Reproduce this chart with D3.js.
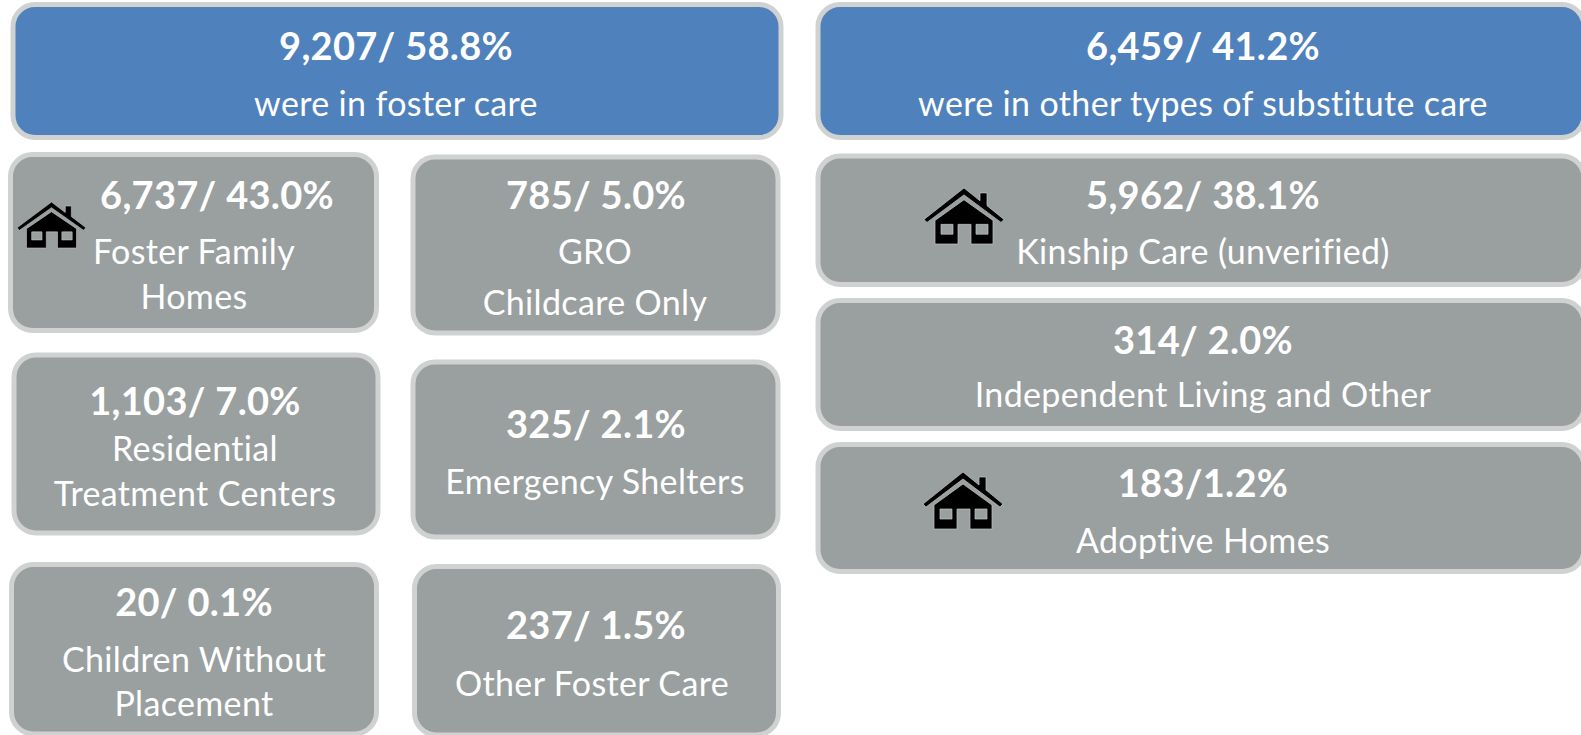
<!DOCTYPE html>
<html>
<head>
<meta charset="utf-8">
<script src="https://cdn.jsdelivr.net/npm/d3@7"></script>
<style>
  html, body { margin: 0; padding: 0; background: #fff; overflow: hidden; }
  text { font-family: Lato, "Open Sans", sans-serif; fill: #fff; text-anchor: middle; font-variant-ligatures: none; }
</style>
</head>
<body>
<svg id="drawing_region" width="1581" height="735"></svg>
<script>
// values
const counts = ["9,207/ 58.8%", "6,459/ 41.2%", "6,737/ 43.0%", "785/ 5.0%", "1,103/ 7.0%", "325/ 2.1%",
                "20/ 0.1%", "237/ 1.5%", "5,962/ 38.1%", "314/ 2.0%", "183/1.2%"];
const labels = [["were in foster care"], ["were in other types of substitute care"], ["Foster Family", "Homes"],
                ["GRO", "Childcare Only"], ["Residential", "Treatment Centers"], ["Emergency Shelters"],
                ["Children Without", "Placement"], ["Other Foster Care"], ["Kinship Care (unverified)"],
                ["Independent Living and Other"], ["Adoptive Homes"]];
const headerBoxes = [0, 1];

// box edges (x0, x1, y0, y1) and text baselines, full size pixels
const boxes = [
    [13, 781, 4.5, 137.5],
    [818, 1584, 4.5, 137.5],
    [10.5, 376.5, 154.5, 330.5],
    [413, 778, 157, 333],
    [14, 378, 355, 533],
    [413, 778, 362, 537],
    [11.5, 376.5, 564.5, 734],
    [414.5, 778.5, 566.5, 735],
    [818, 1584, 156, 284.5],
    [818, 1584, 300.5, 428.5],
    [818, 1584, 444.5, 571.5]
];
const countBase = [60, 60, 209, 209, 415, 438, 616, 639, 209, 354, 497];
const labelBase = [[116], [116], [264, 309], [264, 315], [461, 506], [494], [672, 716], [696], [264], [407], [553]];
const countCenters = [396, 1203, 217, 596, 195, 596, 194, 596, 1203, 1203, 1203];
const labelCenters = [396, 1203, 194, 595, 195, 595, 194, 592, 1203, 1203, 1203];
// house icons: left, top, width, height
const houses = [[17, 202, 69, 46], [924, 188, 80, 56], [923, 472, 80, 57]];

const svg = d3.select("#drawing_region");

const box = svg.selectAll("g.box")
    .data(counts)
    .enter()
    .append("g")
    .attr("class", "box");

box.append("rect")
    .attr("x", (d, i) => boxes[i][0])
    .attr("y", (d, i) => boxes[i][2])
    .attr("width", (d, i) => boxes[i][1] - boxes[i][0])
    .attr("height", (d, i) => boxes[i][3] - boxes[i][2])
    .attr("rx", 22)
    .attr("fill", (d, i) => headerBoxes.includes(i) ? "#4f81bd" : "#9a9f9f")
    .attr("stroke", "#d0d2d2")
    .attr("stroke-width", 5);

box.append("text")
    .attr("x", (d, i) => countCenters[i])
    .attr("y", (d, i) => countBase[i])
    .attr("font-size", 38)
    .attr("letter-spacing", 0.3)
    .attr("font-weight", 700)
    .text(d => d);

box.each(function(d, i) {
    d3.select(this).selectAll("text.label")
        .data(labels[i])
        .enter()
        .append("text")
        .attr("class", "label")
        .attr("x", labelCenters[i])
        .attr("y", (l, j) => labelBase[i][j])
        .attr("font-size", 34)
        .attr("letter-spacing", 0.35)
        .text(l => l);
});

// little house icon, drawn in an 80x57 box
const roofPath = "M0,32 L40,0 L56,13 L56,5 L63,5 L63,18 L80,32 L77,35 L40,7 L3,35 Z";
const bodyPath = "M40,12 L69,33 L69,57 L47,57 L47,37 L34,37 L34,57 L11,57 L11,33 Z " +
                 "M17,37 L17,47 L29,47 L29,37 Z M52,37 L52,47 L64,47 L64,37 Z";

const house = svg.selectAll("g.house")
    .data(houses)
    .enter()
    .append("g")
    .attr("class", "house")
    .attr("transform", d => `translate(${d[0]}, ${d[1]}) scale(${d[2] / 80}, ${d[3] / 57})`);

house.selectAll("path")
    .data([roofPath, bodyPath])
    .enter()
    .append("path")
    .attr("d", d => d)
    .attr("fill", "#000")
    .attr("fill-rule", "evenodd")
    .attr("stroke", "#c4c6c6")
    .attr("stroke-width", 0.7);
</script>
</body>
</html>
